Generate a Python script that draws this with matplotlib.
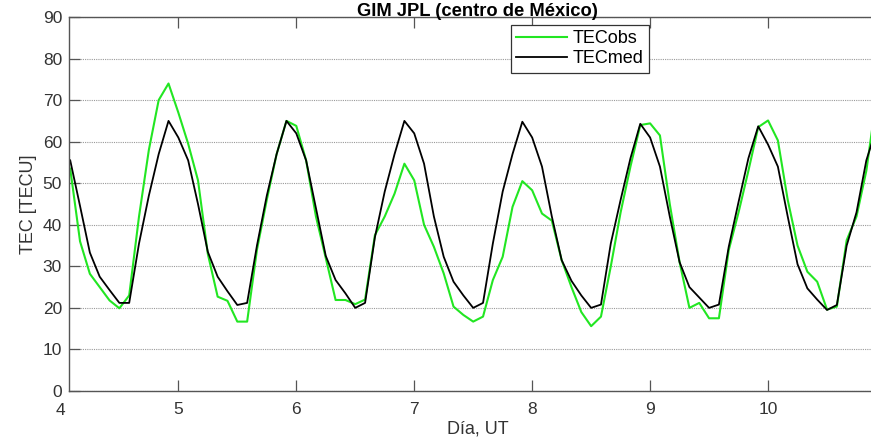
import matplotlib
matplotlib.use("Agg")
import matplotlib.pyplot as plt
import matplotlib.transforms as mtransforms
import numpy as np

plt.rcParams['font.family'] = ['Liberation Sans', 'DejaVu Sans']

# muestras cada 2 h, desde el dia 4 + 2 h
dias = 4 + np.arange(1, 84) / 12.0

tec_obs = [53.5, 36, 28.2, 25, 21.8, 19.9, 23, 42, 58, 70, 74, 67,
           59.5, 50.7, 33, 22.7, 21.7, 16.7, 16.7, 34, 46, 57, 65, 63.8,
           55.5, 42, 32, 21.9, 21.9, 20.9, 22, 37.5, 42, 47.5, 54.7, 50.7,
           40, 34.7, 28.3, 20.3, 18.3, 16.7, 17.9, 26.7, 32.3, 44.3, 50.5, 48.3,
           42.7, 41, 31.5, 25, 19, 15.6, 17.9, 30, 43, 54, 64, 64.4,
           61.5, 45, 31, 20, 21.2, 17.5, 17.5, 33.9, 43, 53, 63.5, 65.1,
           60.3, 46, 35, 28.7, 26.3, 19.6, 20.3, 36.3, 42, 53, 70]

tec_med = [55.5, 44.5, 33.3, 27.5, 24.3, 21.2, 21.2, 35.5, 47, 57, 65, 61,
           55.5, 45, 33.5, 27.5, 24, 20.7, 21.2, 35, 47, 57, 65, 62,
           55.5, 44, 32.5, 26.7, 23.5, 20, 21.2, 37, 48, 57, 65, 62,
           54.7, 42, 32.3, 26.3, 23, 20, 21.2, 35.5, 48, 57, 64.8, 61,
           54, 42, 31.5, 26.5, 23, 20, 20.8, 35.5, 46, 56, 64.3, 61,
           54, 42, 31, 25, 22.5, 20, 20.8, 34.7, 45.5, 56, 63.7, 59.3,
           54, 42, 30.5, 24.7, 22, 19.5, 20.7, 35, 43, 55.5, 63]

x_ticks = [5, 6, 7, 8, 9, 10]
y_ticks = list(range(0, 91, 10))

fig = plt.figure(figsize=(8.71, 4.41), dpi=100)
# el eje sigue a la derecha fuera de la imagen (recortada)
ax = fig.add_axes([69 / 871, 50 / 441, 817 / 871, 374 / 441])

ax.plot(dias, tec_obs, color='#22e622', lw=1.5, label='TECobs')
ax.plot(dias, tec_med, color='black', lw=1.3, label='TECmed')

ax.set_xlim(4.073, 11.0)
ax.set_ylim(0, 90)
ax.set_xticks(x_ticks)
ax.set_yticks(y_ticks)
ax.yaxis.grid(True, linestyle=(0, (1, 1)), color='#9a9a9a', lw=0.8)
ax.set_axisbelow(True)

for s in ax.spines.values():
    s.set_color('#555555')
    s.set_linewidth(1.0)
ax.tick_params(direction='in', length=8, width=0.9, color='#555555',
               labelsize=12.5, labelcolor='#333333', top=True, right=False)
ax.tick_params(axis='x', pad=8)
ax.tick_params(axis='y', pad=5)

# etiqueta del dia 4 (queda fuera del limite del eje)
trans = mtransforms.blended_transform_factory(ax.transData, ax.transAxes)
ax.text(4.0, -0.032, '4', transform=trans, ha='center', va='top',
        fontsize=12.5, color='#333333', clip_on=False)

ax.set_xlabel('Día, UT', fontsize=13, color='#333333')
ax.xaxis.set_label_coords(0.5, -0.078)
ax.set_ylabel('TEC [TECU]', fontsize=13, color='#333333')
ax.yaxis.set_label_coords(-0.039, 0.5)

# titulo recortado por el borde superior, como en la imagen original
fig.text(477.5 / 871, 1 - 16 / 441, 'GIM JPL (centro de México)',
         ha='center', va='baseline', fontsize=13.2, fontweight='bold')

leg = ax.legend(loc='upper left', bbox_to_anchor=(0.541, 0.9786),
                borderaxespad=0, fontsize=13, fancybox=False, framealpha=1,
                edgecolor='#333333', handlelength=2.8, handletextpad=0.3,
                borderpad=0.3, labelspacing=0.15)
leg.get_frame().set_linewidth(0.9)

fig.savefig('out.png', dpi=100)
